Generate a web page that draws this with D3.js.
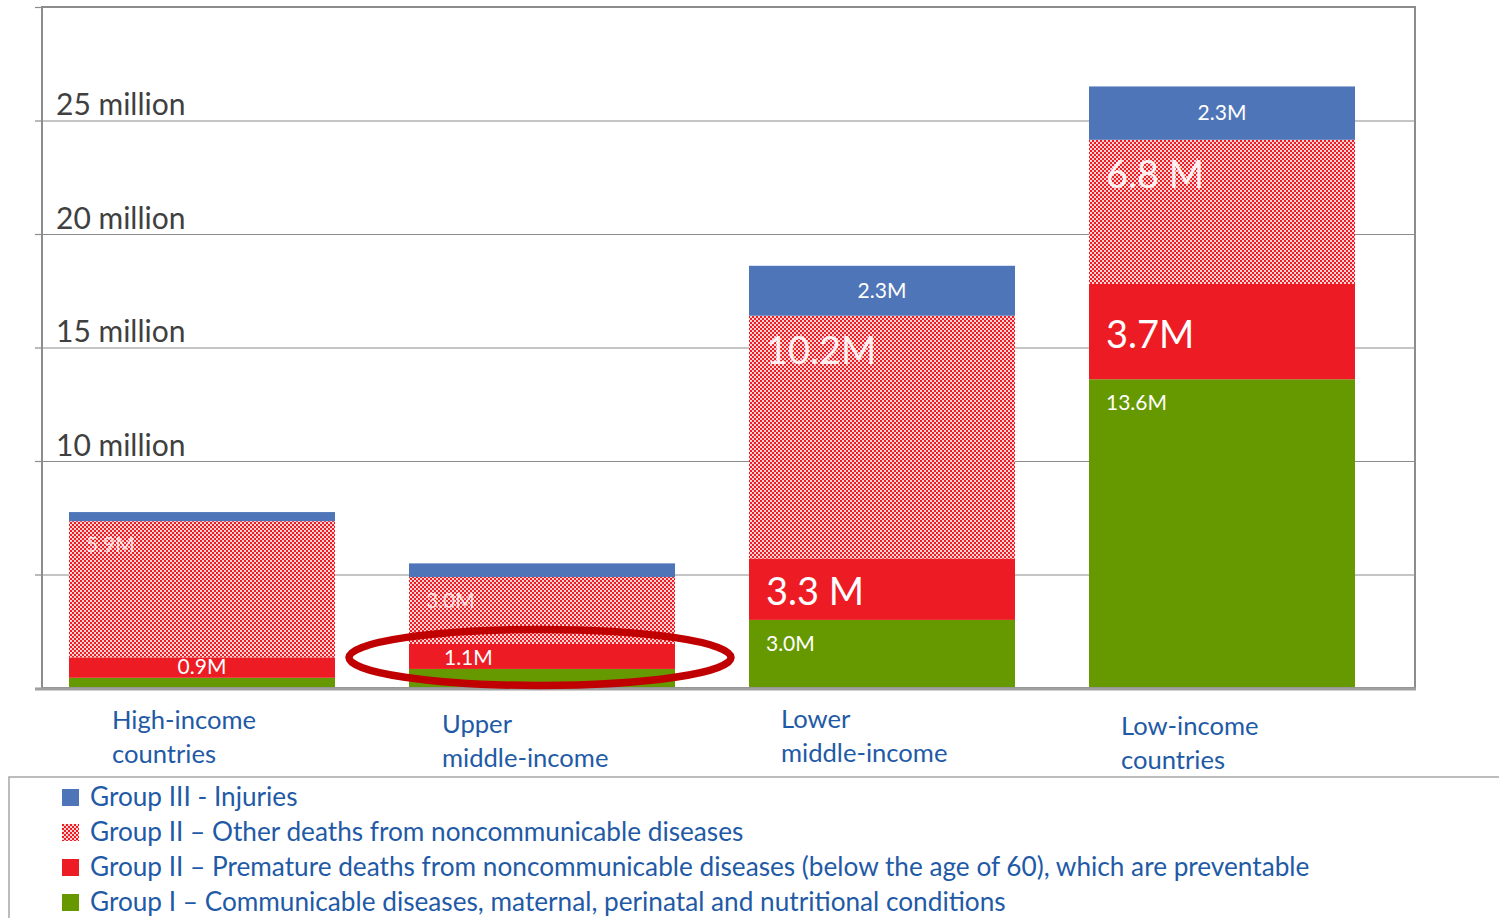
<!DOCTYPE html>
<html>
<head>
<meta charset="utf-8">
<script src="https://cdn.jsdelivr.net/npm/d3@7"></script>
<style>
  body { margin: 0; background: #fff; }
  svg text { font-family: Lato, "Open Sans", sans-serif; }
</style>
</head>
<body>
<div id="chart"></div>
<script>
// size of the svg
var svgWidth = 1499;
var svgHeight = 918;

// categories and stacked values (millions of deaths)
var categories = ["High-income countries", "Upper middle-income", "Lower middle-income", "Low-income countries"];
var categoryLines = [["High-income", "countries"], ["Upper", "middle-income"], ["Lower", "middle-income"], ["Low-income", "countries"]];
var groupI = [0.45, 0.84, 3.0, 13.6];
var prematureNCD = [0.9, 1.1, 2.7, 4.2];
var otherNCD = [6.0, 2.95, 10.7, 6.35];
var injuries = [0.4, 0.6, 2.2, 2.35];

// labels printed on the bars
var groupILabels = ["", "", "3.0M", "13.6M"];
var prematureLabels = ["0.9M", "1.1M", "3.3 M", "3.7M"];
var otherLabels = ["5.9M", "3.0M", "10.2M", "6.8 M"];
var injuryLabels = ["", "", "2.3M", "2.3M"];

// y axis ticks
var yTicks = [0, 5, 10, 15, 20, 25, 30];
var yTickLabels = ["", "", "10 million", "15 million", "20 million", "25 million", ""];

var legendLabels = [
  "Group III - Injuries",
  "Group II \u2013 Other deaths from noncommunicable diseases",
  "Group II \u2013 Premature deaths from noncommunicable diseases (below the age of 60), which are preventable",
  "Group I \u2013 Communicable diseases, maternal, perinatal and nutritional conditions"
];

var keys = ["groupI", "premature", "other", "injuries"];
var colors = { groupI: "#669900", premature: "#ed1c24", other: "url(#checker)", injuries: "#4f75b9" };

var plot = { left: 42, right: 1415, top: 7, bottom: 688 };
var grey = "#8c8c8c";
var textBlue = "#1f5aa6";

var svg = d3.select("#chart")
  .append("svg")
  .attr("width", svgWidth)
  .attr("height", svgHeight);

// checker pattern for "other" noncommunicable deaths
var defs = svg.append("defs");
var pat = defs.append("pattern")
  .attr("id", "checker")
  .attr("patternUnits", "userSpaceOnUse")
  .attr("width", 4).attr("height", 4);
pat.append("rect").attr("width", 4).attr("height", 4).attr("fill", "#fdd3d4");
pat.append("rect").attr("width", 2).attr("height", 2).attr("fill", "#ee1c25");
pat.append("rect").attr("x", 2).attr("y", 2).attr("width", 2).attr("height", 2).attr("fill", "#ee1c25");

// table for the stack
var table = categories.map((c, i) => ({
  category: c,
  groupI: groupI[i],
  premature: prematureNCD[i],
  other: otherNCD[i],
  injuries: injuries[i]
}));
var series = d3.stack().keys(keys)(table);

// scales
var x = d3.scaleBand()
  .domain(categories)
  .range([32, 1392])
  .paddingInner(0.2176)
  .paddingOuter(0.1088);

var y = d3.scaleLinear()
  .domain([0, 30])
  .range([plot.bottom, plot.top]);

// gridlines
var grid = svg.append("g")
  .attr("transform", `translate(${plot.left},0)`)
  .call(d3.axisLeft(y).tickValues(yTicks).tickSize(-(plot.right - plot.left)).tickFormat(""));
grid.select(".domain").remove();
grid.selectAll(".tick line").attr("stroke", grey).attr("stroke-width", 1.2);

// little tick stubs outside the frame, labels inside
var stubs = svg.append("g")
  .attr("transform", `translate(${plot.left},0)`)
  .call(d3.axisLeft(y).tickValues(yTicks).tickSize(7).tickFormat((d, i) => yTickLabels[i]));
stubs.select(".domain").remove();
stubs.selectAll(".tick line").attr("stroke", grey).attr("stroke-width", 1.2);
stubs.selectAll(".tick text")
  .attr("x", 14)
  .attr("dy", "-0.2em")
  .attr("text-anchor", "start")
  .attr("fill", "#404040")
  .style("font-size", "30px");

// bars
svg.append("g")
  .selectAll("g")
  .data(series)
  .join("g")
  .attr("fill", d => colors[d.key])
  .selectAll("rect")
  .data(d => d)
  .join("rect")
  .attr("x", d => x(d.data.category))
  .attr("y", d => y(d[1]))
  .attr("width", x.bandwidth())
  .attr("height", d => y(d[0]) - y(d[1]));

// frame and baseline
svg.append("rect")
  .attr("x", plot.left).attr("y", plot.top)
  .attr("width", plot.right - plot.left)
  .attr("height", plot.bottom - plot.top)
  .attr("fill", "none")
  .attr("stroke", grey)
  .attr("stroke-width", 2);
svg.append("line")
  .attr("x1", 35).attr("x2", plot.right + 1)
  .attr("y1", plot.bottom + 1).attr("y2", plot.bottom + 1)
  .attr("stroke", "#a0a0a0")
  .attr("stroke-width", 3);

// value labels on bars
var labelSets = [groupILabels, prematureLabels, otherLabels, injuryLabels];
var barLabels = [];
series.forEach((s, k) => {
  s.forEach((d, i) => {
    var txt = labelSets[k][i];
    if (!txt) return;
    var key = s.key;
    var big = (key === "premature" || key === "other") && i >= 2;
    var centered = key === "injuries" || (key === "premature" && i === 0);
    var x0 = x(d.data.category);
    var item = {
      text: txt,
      size: big ? 38 : 21,
      anchor: centered ? "middle" : "start",
      x: centered ? x0 + x.bandwidth() / 2 : x0 + (key === "premature" && i === 1 ? 35 : 17),
      y: 0,
      opacity: key === "other" ? (big ? 0.92 : 0.75) : 1
    };
    if (key === "injuries") item.y = (y(d[0]) + y(d[1])) / 2 + 7;
    else if (key === "premature" && i < 2) item.y = y(d[0]) - 4;
    else if (key === "premature") item.y = (y(d[0]) + y(d[1])) / 2 + 16;
    else item.y = y(d[1]) + (big ? 48 : 31);
    barLabels.push(item);
  });
});

svg.append("g")
  .selectAll("text")
  .data(barLabels)
  .join("text")
  .attr("x", d => d.x)
  .attr("y", d => d.y)
  .attr("text-anchor", d => d.anchor)
  .attr("fill", "#fff")
  .attr("fill-opacity", d => d.opacity)
  .style("font-size", d => d.size + "px")
  .text(d => d.text);

// highlight ellipse around the upper middle-income premature deaths
var hi = categories[1];
svg.append("ellipse")
  .attr("cx", x(hi) + x.bandwidth() / 2 - 2)
  .attr("cy", y(groupI[1] + prematureNCD[1] / 2) + 1)
  .attr("rx", 191)
  .attr("ry", 28)
  .attr("fill", "none")
  .attr("stroke", "#c00000")
  .attr("stroke-width", 7.5);

// category labels
var catOffsets = [[43, 721], [33, 725], [32, 720], [32, 727]];
var catG = svg.append("g");
categories.forEach((c, i) => {
  var t = catG.append("text")
    .attr("x", x(c) + catOffsets[i][0])
    .attr("y", catOffsets[i][1] + 8)
    .attr("fill", textBlue)
    .style("font-size", "25.6px");
  categoryLines[i].forEach((line, j) => {
    t.append("tspan")
      .attr("x", x(c) + catOffsets[i][0])
      .attr("dy", j === 0 ? 0 : 34)
      .text(line);
  });
});

// legend
svg.append("rect")
  .attr("x", 9).attr("y", 777)
  .attr("width", 1520).attr("height", 200)
  .attr("fill", "none")
  .attr("stroke", "#a6a6a6")
  .attr("stroke-width", 1.5);

var legendKeys = ["injuries", "other", "premature", "groupI"];
var legend = svg.append("g")
  .selectAll("g")
  .data(legendKeys)
  .join("g")
  .attr("transform", (d, i) => `translate(62, ${797 + i * 35})`);
legend.append("rect")
  .attr("y", -8)
  .attr("width", 17).attr("height", 17)
  .attr("fill", d => colors[d]);
legend.append("text")
  .attr("x", 28)
  .attr("y", 9)
  .attr("fill", textBlue)
  .style("font-size", "26.2px")
  .text((d, i) => legendLabels[i]);
</script>
</body>
</html>
